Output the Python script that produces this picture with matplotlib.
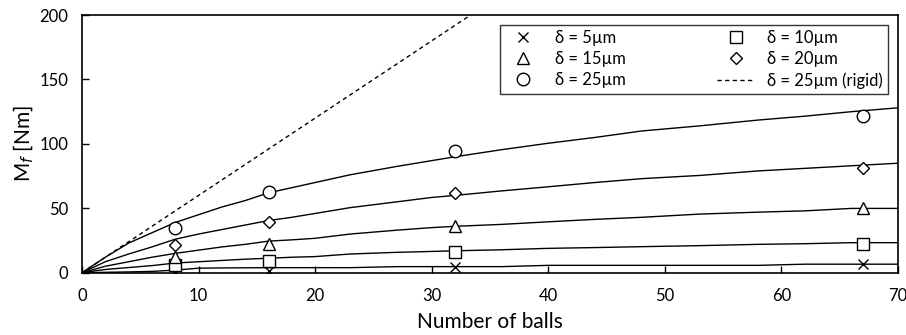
import matplotlib
matplotlib.use('Agg')
import matplotlib.pyplot as plt

plt.rcParams['font.family'] = ['Lato', 'DejaVu Sans']
plt.rcParams['mathtext.fontset'] = 'dejavusans'

# simulated curves (solid lines)
sim_x = [0, 2, 4, 6, 8, 10, 12, 14, 16, 18, 20, 23, 27, 30, 32, 36, 40, 44, 48, 53, 58, 62, 66, 70]
sim_5 = [0, 0.3, 0.6, 1.0, 2.0, 3.5, 3.7, 3.8, 3.9, 3.9, 3.9, 3.9, 4.7, 4.7, 4.7, 4.7, 5.7, 5.7, 5.7, 5.7, 5.7, 6.6, 6.6, 6.6]
sim_10 = [0, 2.5, 4, 5.5, 7.5, 8.5, 9.5, 10.5, 11.2, 12, 12.5, 14.5, 15.8, 16.5, 17, 17.8, 18.9, 19.5, 20.2, 21, 22, 22.5, 23.3, 23.3]
sim_15 = [0, 5, 8.5, 12, 15, 17.5, 20, 22, 24.5, 25.5, 26.7, 30, 33, 35, 36, 37.5, 39.5, 41.4, 43, 45.5, 47, 48, 49.9, 49.9]
sim_20 = [0, 8.5, 14.5, 20, 26, 30, 33.5, 37, 40.5, 43, 46, 50.5, 55, 58.4, 60, 63.5, 66.7, 70, 73, 75.5, 79, 81, 83, 85]
sim_25 = [0, 12, 23, 31, 39, 45, 51, 56, 62, 66, 70, 76, 82.5, 87, 90, 95.5, 100.5, 105, 110, 114, 118.5, 121.5, 125, 128]

# rigid case (dashed)
rigid_x = [0, 8, 16, 32, 40]
rigid_25 = [0, 48, 96, 192, 240]

# measured points (markers)
exp_x = [8, 16, 32, 67]
exp_5 = [0.8, 1.6, 4.6, 6.5]
exp_10 = [6, 9, 15.8, 22.3]
exp_15 = [12.4, 22, 36.2, 50.2]
exp_20 = [21.5, 39.5, 61.5, 81.4]
exp_25 = [34.4, 62.3, 94.6, 121.7]

fig = plt.figure(figsize=(9.06, 3.35), dpi=100)
ax = fig.add_axes([0.0905, 0.186, 0.9007, 0.769])

for ys in [sim_5, sim_10, sim_15, sim_20, sim_25]:
    ax.plot(sim_x, ys, color='black', lw=1.0)
h_rigid, = ax.plot(rigid_x, rigid_25, color='black', lw=1.0, ls=(0, (3, 2.5)),
                   label='δ = 25µm (rigid)')

mk = dict(ls='none', mfc='white', mec='black', mew=1.0)
h5, = ax.plot(exp_x, exp_5, marker='x', ms=7, color='black', ls='none', label='δ = 5µm')
h10, = ax.plot(exp_x, exp_10, marker='s', ms=8, label='δ = 10µm', **mk)
h15, = ax.plot(exp_x, exp_15, marker='^', ms=9, label='δ = 15µm', **mk)
h20, = ax.plot(exp_x, exp_20, marker='D', ms=6.5, label='δ = 20µm', **mk)
h25, = ax.plot(exp_x, exp_25, marker='o', ms=9, label='δ = 25µm', **mk)

ax.set_xlim(0, 70)
ax.set_ylim(0, 200)
ax.set_xticks(range(0, 71, 10))
ax.set_yticks(range(0, 201, 50))
ax.tick_params(direction='in', length=5, width=1, labelsize=12, colors='black')
ax.tick_params(axis='x', pad=11)
ax.tick_params(axis='y', pad=10)
for s in ax.spines.values():
    s.set_linewidth(1.2)
    s.set_color('black')

ax.set_xlabel('Number of balls', fontsize=15, labelpad=6)
ax.set_ylabel('M$_f$ [Nm]', fontsize=15, labelpad=2)

leg = ax.legend(handles=[h5, h15, h25, h10, h20, h_rigid], ncol=2, loc='upper right',
                fontsize=12, frameon=True, fancybox=False, edgecolor='black',
                borderaxespad=0.6, columnspacing=5.5, handlelength=2.2,
                labelspacing=0.3, borderpad=0.3, handletextpad=0.8)
leg.get_frame().set_linewidth(1.0)

fig.savefig('out.png', dpi=100)
